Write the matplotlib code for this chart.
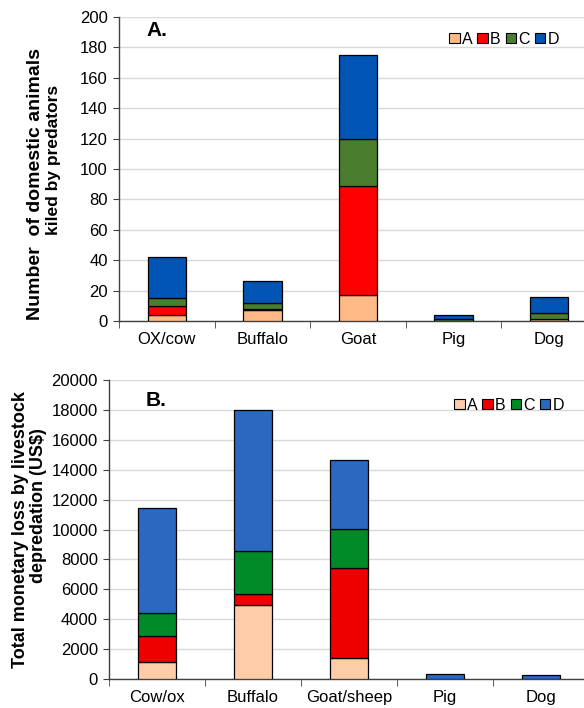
import matplotlib
matplotlib.use("Agg")
import matplotlib.pyplot as plt
import numpy as np
from matplotlib.patches import Patch

plt.rcParams['font.family'] = ['Liberation Sans', 'DejaVu Sans']

# Panel A: number of animals killed
cats_a = ["OX/cow", "Buffalo", "Goat", "Pig", "Dog"]
a_A = [4, 7, 17, 0, 1]
a_B = [6, 1, 72, 0, 0]
a_C = [5, 4, 31, 1, 4]
a_D = [27, 14, 55, 3, 11]

# Panel B: monetary loss (US$)
cats_b = ["Cow/ox", "Buffalo", "Goat/sheep", "Pig", "Dog"]
b_A = [1150, 4950, 1400, 0, 0]
b_B = [1750, 750, 6000, 0, 0]
b_C = [1500, 2850, 2650, 0, 0]
b_D = [7050, 9450, 4600, 350, 270]

series_names = ["A", "B", "C", "D"]
colors_a = ["#FFB986", "#FF0000", "#4A7D2E", "#0055B5"]
colors_b = ["#FFCCAA", "#EE0000", "#008A28", "#2B68C0"]

W, H = 584, 708
fig = plt.figure(figsize=(W / 100, H / 100), dpi=100)


def fx(px):
    return px / W


def fy(py):
    return 1 - py / H


def panel(rect, cats, stacks, colors, ymax, ystep, label_lines, tag,
          leg_anchor, tag_xy):
    ax = fig.add_axes(rect)
    x = np.arange(len(cats))
    bottom = np.zeros(len(cats))
    for vals, col in zip(stacks, colors):
        v = np.array(vals, dtype=float)
        ax.bar(x, v, width=0.4, bottom=bottom, color=col, edgecolor="black",
               linewidth=0.9, zorder=3)
        bottom += v
    ax.set_xlim(-0.5, len(cats) - 0.5)
    ax.set_ylim(0, ymax)
    ax.set_yticks(np.arange(0, ymax + 1, ystep))
    ax.yaxis.grid(True, color="#D9D9D9", linewidth=1.0, zorder=0)
    ax.set_axisbelow(True)
    for s in ["top", "right"]:
        ax.spines[s].set_visible(False)
    for s in ["left", "bottom"]:
        ax.spines[s].set_color("#404040")
        ax.spines[s].set_linewidth(1.0)
    ax.set_xticks(x)
    ax.set_xticklabels(cats, fontsize=12)
    ax.tick_params(axis="x", which="major", length=0, pad=8)
    ax.set_xticks(np.arange(-0.5, len(cats), 1.0), minor=True)
    ax.tick_params(axis="x", which="minor", length=5, direction="out",
                   color="#404040")
    ax.tick_params(axis="y", length=4, direction="out", color="#404040",
                   labelsize=12, pad=4)
    # two-line rotated axis title
    for text, (cx, cy), size in label_lines:
        fig.text(fx(cx), fy(cy), text, rotation=90, ha="center", va="center",
                 fontsize=size, fontweight="bold")
    fig.text(fx(tag_xy[0]), fy(tag_xy[1]), tag, fontsize=15,
             fontweight="bold", ha="left", va="center")
    handles = [Patch(facecolor=c, edgecolor="black", linewidth=0.8)
               for c in colors]
    fig.legend(handles, series_names, loc="center right",
               bbox_to_anchor=(fx(leg_anchor[0]), fy(leg_anchor[1])),
               ncol=4, frameon=False, fontsize=11.5, handlelength=0.65,
               handleheight=0.65, handletextpad=0.15, columnspacing=0.3,
               borderaxespad=0, borderpad=0)
    return ax


axA = panel([fx(119), fy(321), 478 / W, 304 / H], cats_a,
            [a_A, a_B, a_C, a_D], colors_a, 200, 20,
            [("Number  of domestic animals", (36, 184), 14),
             ("kiled by predators", (54, 160), 12.5)],
            "A.", (559, 39), (146, 31))

axB = panel([fx(109), fy(679), 480 / W, 299 / H], cats_b,
            [b_A, b_B, b_C, b_D], colors_b, 20000, 2000,
            [("Total monetary loss by livestock", (21, 530), 13),
             ("depredation (US$)", (39, 506), 13)],
            "B.", (564, 405), (146, 401))

fig.savefig("out.png", dpi=100)
